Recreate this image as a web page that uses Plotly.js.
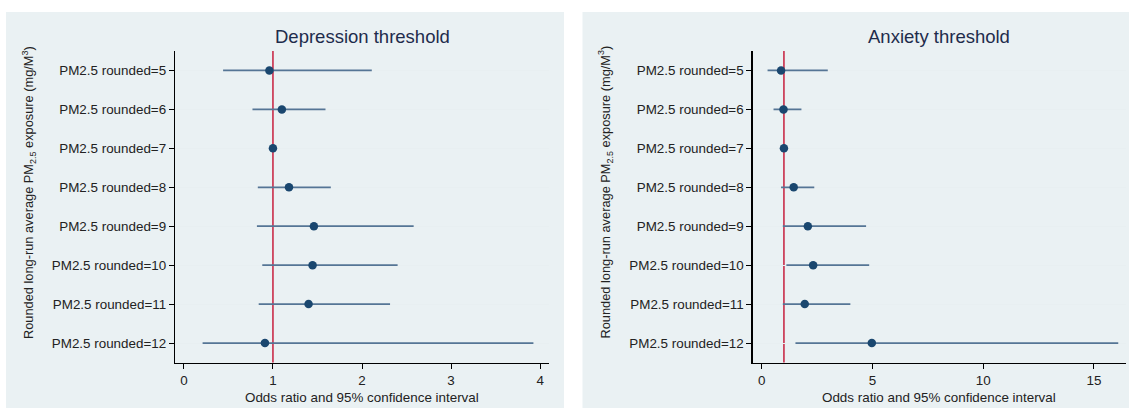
<!DOCTYPE html>
<html>
<head>
<meta charset="utf-8">
<script src="https://cdn.plot.ly/plotly-3.0.1.min.js"></script>
<style>
html,body{margin:0;padding:0;background:#fff;}
#chart{width:1129px;height:410px;}
</style>
</head>
<body>
<div id="chart"></div>
<script>
// ---- data ----
const categories = ["PM2.5 rounded=5","PM2.5 rounded=6","PM2.5 rounded=7","PM2.5 rounded=8",
                    "PM2.5 rounded=9","PM2.5 rounded=10","PM2.5 rounded=11","PM2.5 rounded=12"];

const depOR   = [0.96, 1.10, 1.00, 1.18, 1.46, 1.445, 1.40, 0.91];
const depLow  = [0.44, 0.77, 1.00, 0.83, 0.82, 0.88, 0.84, 0.21];
const depHigh = [2.11, 1.59, 1.00, 1.65, 2.58, 2.40, 2.315, 3.925];

const anxOR   = [0.87, 0.98, 1.00, 1.44, 2.08, 2.32, 1.94, 4.97];
const anxLow  = [0.26, 0.53, 1.00, 0.87, 0.95, 1.11, 0.95, 1.52];
const anxHigh = [2.98, 1.79, 1.00, 2.37, 4.71, 4.85, 4.00, 16.1];

const depTicks = [0, 1, 2, 3, 4];
const anxTicks = [0, 5, 10, 15];

const titles = ["Depression threshold", "Anxiety threshold"];
const xTitle = "Odds ratio and 95% confidence interval";
const yTitle = "Rounded long-run average PM<sub>2.5</sub> exposure (mg/M<sup>3</sup>)";
const refValue = 1;

// ---- styling ----
const FONT = "Liberation Sans, Arial, Helvetica, sans-serif";
const W = 1129, H = 410;
const navy = "#1a476f";
const ciColor = "#557595";
const bg = "#eaf1f3";
const titleColor = "#1e2c4c";

function trace(or, lo, hi, xa, ya) {
  return {
    type: "scatter", mode: "markers",
    x: or, y: categories, xaxis: xa, yaxis: ya,
    marker: {color: navy, size: 8.5},
    error_x: {
      type: "data", symmetric: false,
      array: hi.map((h, i) => h - or[i]),
      arrayminus: lo.map((l, i) => or[i] - l),
      color: ciColor, thickness: 1.8, width: 0
    },
    hoverinfo: "x+y", showlegend: false
  };
}

const yTop = 1 - 51/H, yBot = 1 - 362.5/H;

function xaxis(domain, range, ticks) {
  return {
    domain: domain, range: range, tickvals: ticks, ticktext: ticks.map(String),
    showgrid: false, zeroline: false, showline: true, linecolor: "#000", linewidth: 1,
    ticks: "outside", ticklen: 5, tickcolor: "#000", tickwidth: 1,
    tickfont: {family: FONT, size: 13.4, color: "#222"}, fixedrange: true
  };
}
function yaxis(anchor) {
  return {
    domain: [yBot, yTop], type: "category", categoryarray: categories,
    range: [categories.length - 0.5, -0.5], anchor: anchor,
    showgrid: true, gridcolor: "#e8eff1", gridwidth: 1, zeroline: false,
    showline: true, linecolor: "#000", linewidth: 1.2,
    ticks: "outside", ticklen: 5, tickcolor: "#000", tickwidth: 1,
    tickfont: {family: FONT, size: 13.4, color: "#222"}, fixedrange: true
  };
}

const leftDom = [175/W, 549/W];
const rightDom = [752.5/W, 1126/W];

const layout = {
  width: W, height: H,
  margin: {l: 0, r: 0, t: 0, b: 0},
  paper_bgcolor: "#ffffff", plot_bgcolor: "#ffffff",
  xaxis: Object.assign(xaxis(leftDom, [-0.1, 4.1], depTicks), {anchor: "y"}),
  yaxis: yaxis("x"),
  xaxis2: Object.assign(xaxis(rightDom, [-0.42, 16.45], anxTicks), {anchor: "y2"}),
  yaxis2: yaxis("x2"),
  shapes: [
    {type: "rect", xref: "paper", yref: "paper", x0: 6/W, x1: 564/W, y0: 1 - 408/H, y1: 1 - 12/H,
     fillcolor: bg, line: {width: 0}, layer: "below"},
    {type: "rect", xref: "paper", yref: "paper", x0: 582.5/W, x1: 1, y0: 1 - 408/H, y1: 1 - 12/H,
     fillcolor: bg, line: {width: 0}, layer: "below"},
    {type: "line", xref: "x", yref: "y domain", x0: refValue, x1: refValue, y0: 0, y1: 1,
     line: {color: "#c40f30", width: 1.4}, layer: "below"},
    {type: "line", xref: "x2", yref: "y2 domain", x0: refValue, x1: refValue, y0: 0, y1: 1,
     line: {color: "#c40f30", width: 1.4}, layer: "below"}
  ],
  annotations: [
    {text: titles[0], xref: "x domain", yref: "paper", x: 0.5, y: 1 - 37/H, xanchor: "center", yanchor: "middle",
     showarrow: false, font: {family: FONT, size: 18.5, color: titleColor}},
    {text: titles[1], xref: "x2 domain", yref: "paper", x: 0.5, y: 1 - 37/H, xanchor: "center", yanchor: "middle",
     showarrow: false, font: {family: FONT, size: 18.5, color: titleColor}},
    {text: xTitle, xref: "x domain", yref: "paper", x: 0.5, y: 1 - 397/H, xanchor: "center", yanchor: "middle",
     showarrow: false, font: {family: FONT, size: 13.4, color: "#222"}},
    {text: xTitle, xref: "x2 domain", yref: "paper", x: 0.5, y: 1 - 397/H, xanchor: "center", yanchor: "middle",
     showarrow: false, font: {family: FONT, size: 13.4, color: "#222"}},
    {text: yTitle, xref: "paper", yref: "paper", x: 28.5/W, y: 1 - 192.5/H, xanchor: "center", yanchor: "middle",
     textangle: -90, showarrow: false, font: {family: FONT, size: 12.8, color: "#222"}},
    {text: yTitle, xref: "paper", yref: "paper", x: 605/W, y: 1 - 192.5/H, xanchor: "center", yanchor: "middle",
     textangle: -90, showarrow: false, font: {family: FONT, size: 12.8, color: "#222"}}
  ]
};

const data = [
  trace(depOR, depLow, depHigh, "x", "y"),
  trace(anxOR, anxLow, anxHigh, "x2", "y2")
];

Plotly.newPlot("chart", data, layout, {displayModeBar: false, staticPlot: true});
</script>
</body>
</html>
